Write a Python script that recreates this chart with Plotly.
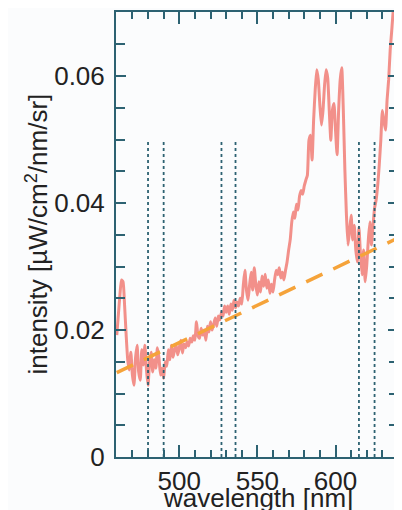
import plotly.graph_objects as go

# ---- data ----
wavelength = list(range(460, 641))
intensity = [
    0.0192, 0.0224, 0.0255, 0.0279, 0.0276, 0.0239, 0.0192, 0.0153, 0.0137, 0.0165,  # 460-469
    0.0129, 0.0113, 0.0156, 0.0176, 0.0134, 0.0121, 0.0169, 0.0145, 0.0176, 0.0137,  # 470-479
    0.0113, 0.0150, 0.0165, 0.0134, 0.0153, 0.0140, 0.0172, 0.0156, 0.0129, 0.0140,  # 480-489
    0.0124, 0.0150, 0.0143, 0.0169, 0.0153, 0.0176, 0.0157, 0.0169, 0.0176, 0.0161,  # 490-499
    0.0172, 0.0184, 0.0164, 0.0178, 0.0172, 0.0181, 0.0175, 0.0187, 0.0181, 0.0191,  # 500-509
    0.0184, 0.0213, 0.0191, 0.0187, 0.0203, 0.0192, 0.0200, 0.0184, 0.0206, 0.0197,  # 510-519
    0.0213, 0.0200, 0.0209, 0.0219, 0.0206, 0.0222, 0.0216, 0.0228, 0.0222, 0.0238,  # 520-529
    0.0228, 0.0238, 0.0225, 0.0241, 0.0231, 0.0247, 0.0235, 0.0244, 0.0238, 0.0250,  # 530-539
    0.0241, 0.0271, 0.0294, 0.0263, 0.0247, 0.0271, 0.0291, 0.0263, 0.0298, 0.0271,  # 540-549
    0.0255, 0.0276, 0.0260, 0.0285, 0.0269, 0.0288, 0.0266, 0.0279, 0.0258, 0.0272,  # 550-559
    0.0260, 0.0279, 0.0294, 0.0287, 0.0298, 0.0282, 0.0291, 0.0279, 0.0294, 0.0307,  # 560-569
    0.0326, 0.0342, 0.0370, 0.0386, 0.0376, 0.0398, 0.0389, 0.0411, 0.0420, 0.0414,  # 570-579
    0.0427, 0.0436, 0.0444, 0.0499, 0.0507, 0.0468, 0.0531, 0.0578, 0.0610, 0.0594,  # 580-589
    0.0554, 0.0523, 0.0546, 0.0586, 0.0610, 0.0597, 0.0546, 0.0499, 0.0546, 0.0557,  # 590-599
    0.0515, 0.0476, 0.0546, 0.0594, 0.0613, 0.0546, 0.0452, 0.0381, 0.0334, 0.0357,  # 600-609
    0.0381, 0.0342, 0.0365, 0.0326, 0.0307, 0.0362, 0.0318, 0.0287, 0.0326, 0.0276,  # 610-619
    0.0302, 0.0342, 0.0370, 0.0334, 0.0365, 0.0392, 0.0405, 0.0428, 0.0460, 0.0499,  # 620-629
    0.0546, 0.0528, 0.0515, 0.0562, 0.0594, 0.0641, 0.0672, 0.0704, 0.0720, 0.0750,  # 630-639
    0.0780,                                                                          # 640
]

fit_wavelength = [460, 640]
fit_intensity = [0.0133, 0.0345]

marker_lines = [480, 490, 527, 536, 615, 625]
marker_top = 0.05

x_tickvals = [500, 550, 600]
y_tickvals = [0, 0.02, 0.04, 0.06]
y_ticktext = ["0", "0.02", "0.04", "0.06"]

# ---- figure ----
AXIS = "#2d6272"
TEXT = "#222222"
BG = "#fbfcfd"
FONT = "Liberation Sans, Arial, sans-serif"
FS = 26

fig = go.Figure()

fig.add_trace(go.Scatter(
    x=wavelength, y=intensity, mode="lines",
    line=dict(color="rgba(238,98,88,0.70)", width=3, shape="spline", smoothing=0.5),
    hoverinfo="skip", showlegend=False,
))

fig.add_trace(go.Scatter(
    x=fit_wavelength, y=fit_intensity, mode="lines",
    line=dict(color="#f5a33a", width=3.5, dash="18px,12px"),
    hoverinfo="skip", showlegend=False,
))

vx, vy = [], []
for w in marker_lines:
    vx += [w, w, None]
    vy += [0, marker_top, None]
fig.add_trace(go.Scatter(
    x=vx, y=vy, mode="lines",
    line=dict(color=AXIS, width=1.8, dash="dot"),
    hoverinfo="skip", showlegend=False,
))

fig.update_xaxes(
    range=[459.5, 640], tickvals=x_tickvals,
    ticks="inside", ticklen=12, tickwidth=2, tickcolor=AXIS,
    minor=dict(dtick=10, tick0=460, ticks="inside", ticklen=7, tickwidth=2, tickcolor=AXIS, showgrid=False),
    showline=True, linecolor=AXIS, linewidth=2, mirror="allticks",
    showgrid=False, zeroline=False,
    tickfont=dict(family=FONT, size=FS, color=TEXT),
)
fig.update_yaxes(
    range=[0, 0.0701], tickvals=y_tickvals, ticktext=y_ticktext,
    ticks="inside", ticklen=10, tickwidth=2, tickcolor=AXIS,
    minor=dict(dtick=0.005, tick0=0, ticks="inside", ticklen=9, tickwidth=2, tickcolor=AXIS, showgrid=False),
    showline=True, linecolor=AXIS, linewidth=2, mirror="allticks",
    showgrid=False, zeroline=False,
    ticklabelstandoff=4,
    tickfont=dict(family=FONT, size=FS, color=TEXT),
)

fig.add_annotation(
    text="intensity [µW/cm<sup>2</sup>/nm/sr]", textangle=-90,
    xref="paper", yref="paper", x=-0.28, y=0.5,
    xanchor="center", yanchor="middle", showarrow=False,
    font=dict(family=FONT, size=FS, color=TEXT),
)
fig.add_annotation(
    text="wavelength [nm]",
    xref="paper", yref="paper", x=0.505, y=-0.054,
    xanchor="center", yanchor="top", showarrow=False,
    font=dict(family=FONT, size=FS, color=TEXT),
)

# page body has an 8px margin, so the figure is sized/offset to land where the reference is
fig.update_layout(
    width=394, height=502,
    margin=dict(l=108, r=2, t=4, b=53),
    paper_bgcolor=BG, plot_bgcolor=BG,
    showlegend=False,
)

fig.write_html("out.html")
